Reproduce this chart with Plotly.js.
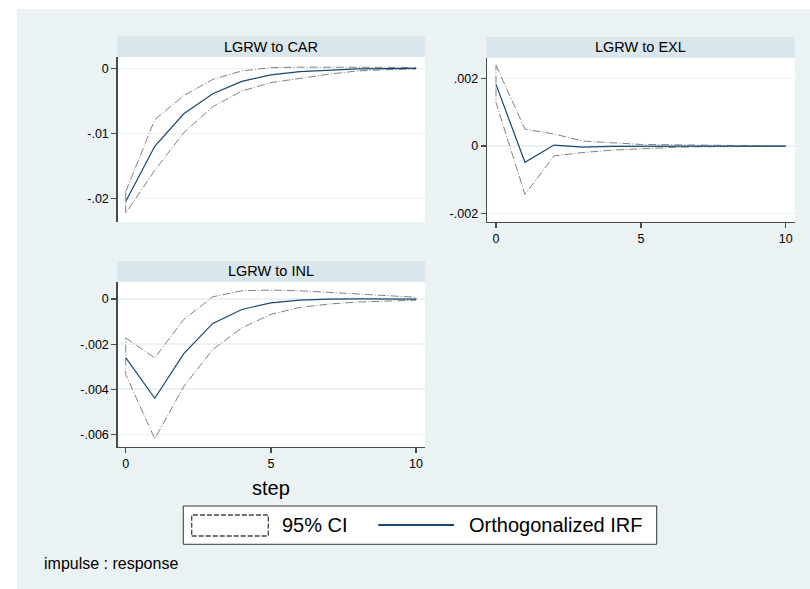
<!DOCTYPE html>
<html>
<head>
<meta charset="utf-8">
<script src="https://cdn.plot.ly/plotly-3.0.1.min.js"></script>
<style>
html,body{margin:0;padding:0;background:#ffffff;}
#chart{position:absolute;left:17px;top:9px;width:793px;height:580px;}
</style>
</head>
<body>
<div id="chart"></div>
<script>
// ---- data ----
var steps = [0,1,2,3,4,5,6,7,8,9,10];

var panelTitles = ["LGRW to CAR", "LGRW to EXL", "LGRW to INL"];

var irfCAR = [-0.0205, -0.0120, -0.0070, -0.0039, -0.0020, -0.0010, -0.0005, -0.00025, -0.0001, -0.00005, -0.00002];
var upCAR  = [-0.0190, -0.0079, -0.0042, -0.0017, -0.0004, 0.0001, 0.00018, 0.0002, 0.00018, 0.00015, 0.0001];
var loCAR  = [-0.0223, -0.0157, -0.0099, -0.0059, -0.0035, -0.0022, -0.0015, -0.0009, -0.0004, -0.0002, -0.0001];

var irfEXL = [0.00183, -0.00048, 0.00003, -0.00003, -0.00001, 0, 0, 0, 0, 0, 0];
var upEXL  = [0.00240, 0.00050, 0.00036, 0.00015, 0.00010, 0.00005, 0.00004, 0.00003, 0.00002, 0.00001, 0.00001];
var loEXL  = [0.00129, -0.00143, -0.00029, -0.00019, -0.00012, -0.00007, -0.00004, -0.00002, -0.00001, -0.00001, 0];

var irfINL = [-0.0026, -0.0044, -0.00242, -0.00108, -0.00046, -0.00017, -0.00005, 0, 0.00001, 0.00001, 0];
var upINL  = [-0.00172, -0.00261, -0.0009, 0.0001, 0.00037, 0.0004, 0.00037, 0.0003, 0.0002, 0.00015, 0.00008];
var loINL  = [-0.00335, -0.0062, -0.00388, -0.00224, -0.00128, -0.00068, -0.00037, -0.00022, -0.00013, -0.00008, -0.00005];

var yTickValsCAR = [0, -0.01, -0.02];
var yTickTextCAR = ["0", "-.01", "-.02"];
var yTickValsEXL = [0.002, 0, -0.002];
var yTickTextEXL = [".002", "0", "-.002"];
var yTickValsINL = [0, -0.002, -0.004, -0.006];
var yTickTextINL = ["0", "-.002", "-.004", "-.006"];
var xTickVals = [0, 5, 10];

var legendLabels = ["95% CI", "Orthogonalized IRF"];
var xTitle = "step";
var noteText = "impulse : response";

// ---- styles ----
var FONT = "Liberation Sans, Arial, Helvetica, sans-serif";
var NAVY = "#1a476f";
var CIGRAY = "#808080";
var BG = "#eaf2f3";
var STRIP = "#d9e6eb";
var AXC = "#4a4a4a";
var CIDASH = "8px,2px,1px,2px";

function ciTrace(up, lo, xa, ya) {
  var xs = steps.concat(steps.slice().reverse()).concat([steps[0]]);
  var ys = up.concat(lo.slice().reverse()).concat([up[0]]);
  return {x: xs, y: ys, xaxis: xa, yaxis: ya, mode: "lines", type: "scatter",
          line: {color: CIGRAY, width: 1, dash: CIDASH}, hoverinfo: "skip", showlegend: false};
}
function irfTrace(v, xa, ya) {
  return {x: steps, y: v, xaxis: xa, yaxis: ya, mode: "lines", type: "scatter",
          line: {color: NAVY, width: 1.2}, showlegend: false};
}

var data = [
  ciTrace(upCAR, loCAR, "x", "y"), irfTrace(irfCAR, "x", "y"),
  ciTrace(upEXL, loEXL, "x2", "y2"), irfTrace(irfEXL, "x2", "y2"),
  ciTrace(upINL, loINL, "x3", "y3"), irfTrace(irfINL, "x3", "y3")
];

function yax(domain, range, vals, text) {
  return {domain: domain, range: range, tickmode: "array", tickvals: vals, ticktext: text,
          showline: true, linecolor: AXC, linewidth: 1.4, ticks: "outside", ticklen: 5,
          tickcolor: AXC, tickwidth: 1.3, showgrid: true, gridcolor: BG, gridwidth: 1.5,
          zeroline: false, tickfont: {family: FONT, size: 12.5, color: "#000"}, fixedrange: true};
}
function xax(domain, range, anchor, show) {
  return {domain: domain, range: range, anchor: anchor, tickmode: "array", tickvals: xTickVals,
          showline: show, linecolor: AXC, linewidth: 1.4, ticks: show ? "outside" : "", ticklen: 5,
          tickcolor: AXC, tickwidth: 1.3, showticklabels: show, showgrid: false, zeroline: false,
          tickfont: {family: FONT, size: 12.5, color: "#000"}, fixedrange: true};
}

var xL = [0.1270, 0.5145], xR = [0.5927, 0.9811];
var yTop = [0.6328, 0.9172], yTopR = [0.6333, 0.9160], yBot = [0.2453, 0.5298];

var layout = {
  width: 793, height: 580,
  margin: {l: 0, r: 0, t: 0, b: 0},
  paper_bgcolor: BG, plot_bgcolor: "#ffffff",
  showlegend: false,
  xaxis: xax(xL, [-0.276, 10.31], "y", false),
  yaxis: yax(yTop, [-0.02365, 0.00174], yTickValsCAR, yTickTextCAR),
  xaxis2: xax(xR, [-0.31, 10.32], "y2", true),
  yaxis2: Object.assign(yax(yTopR, [-0.00224, 0.00262], yTickValsEXL, yTickTextEXL), {anchor: "x2"}),
  xaxis3: xax(xL, [-0.276, 10.31], "y3", true),
  yaxis3: Object.assign(yax(yBot, [-0.00655, 0.00077], yTickValsINL, yTickTextINL), {anchor: "x3"}),
  shapes: [
    {type: "rect", xref: "paper", yref: "paper", x0: 0.1261, x1: 0.5145, y0: 0.9172, y1: 0.9535, fillcolor: STRIP, line: {width: 0}, layer: "below"},
    {type: "rect", xref: "paper", yref: "paper", x0: 0.5923, x1: 0.9811, y0: 0.9160, y1: 0.9522, fillcolor: STRIP, line: {width: 0}, layer: "below"},
    {type: "rect", xref: "paper", yref: "paper", x0: 0.1261, x1: 0.5145, y0: 0.5298, y1: 0.5655, fillcolor: STRIP, line: {width: 0}, layer: "below"},
    // legend box
    {type: "rect", xref: "paper", yref: "paper", x0: 0.2097, x1: 0.8067, y0: 0.0771, y1: 0.1431, fillcolor: "#ffffff", line: {color: "#333333", width: 1}},
    // CI key
    {type: "rect", xref: "paper", yref: "paper", x0: 0.2203, x1: 0.3169, y0: 0.0914, y1: 0.1276, fillcolor: "#ffffff", line: {color: "#444444", width: 1.3, dash: "5px,2px"}},
    // IRF key
    {type: "line", xref: "paper", yref: "paper", x0: 0.4556, x1: 0.5511, y0: 0.1103, y1: 0.1103, line: {color: NAVY, width: 2}}
  ],
  annotations: [
    {text: panelTitles[0], xref: "paper", yref: "paper", x: 0.3203, y: 0.9353, showarrow: false, xanchor: "center", yanchor: "middle", font: {family: FONT, size: 14.5, color: "#000"}},
    {text: panelTitles[1], xref: "paper", yref: "paper", x: 0.7867, y: 0.9341, showarrow: false, xanchor: "center", yanchor: "middle", font: {family: FONT, size: 14.5, color: "#000"}},
    {text: panelTitles[2], xref: "paper", yref: "paper", x: 0.3203, y: 0.5476, showarrow: false, xanchor: "center", yanchor: "middle", font: {family: FONT, size: 14.5, color: "#000"}},
    {text: xTitle, xref: "paper", yref: "paper", x: 0.3203, y: 0.1736, showarrow: false, xanchor: "center", yanchor: "middle", font: {family: FONT, size: 20, color: "#000"}},
    {text: legendLabels[0], xref: "paper", yref: "paper", x: 0.3317, y: 0.1095, showarrow: false, xanchor: "left", yanchor: "middle", font: {family: FONT, size: 20, color: "#000"}},
    {text: legendLabels[1], xref: "paper", yref: "paper", x: 0.5671, y: 0.1095, showarrow: false, xanchor: "left", yanchor: "middle", font: {family: FONT, size: 20, color: "#000"}},
    {text: noteText, xref: "paper", yref: "paper", x: 0.0312, y: 0.0443, showarrow: false, xanchor: "left", yanchor: "middle", font: {family: FONT, size: 16, color: "#000"}}
  ]
};

Plotly.newPlot("chart", data, layout, {displayModeBar: false, staticPlot: true});
</script>
</body>
</html>
